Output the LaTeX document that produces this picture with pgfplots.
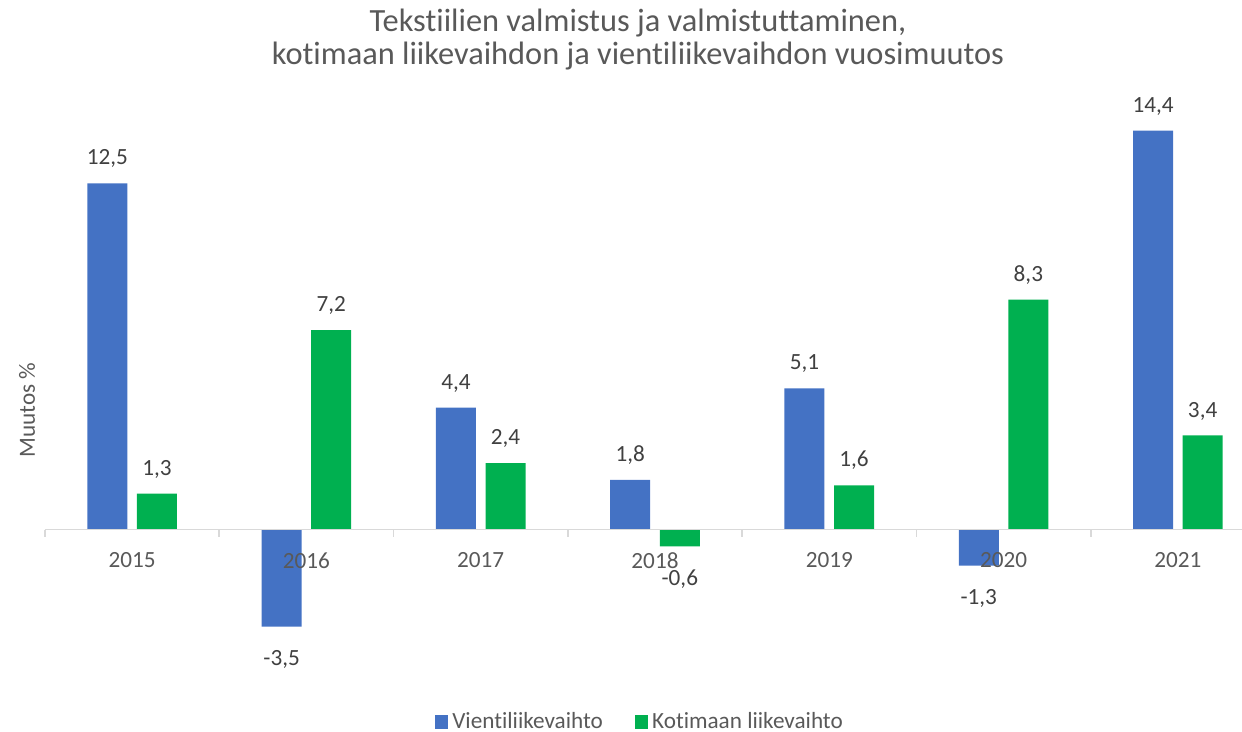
\documentclass[border=0pt]{standalone}
\usepackage{pgfplots}
\pgfplotsset{compat=1.18}
\usepackage{fontspec}
\setmainfont{Carlito}[RawFeature={-liga;-clig;-calt;-dlig}]
\definecolor{vienti}{HTML}{4472C4}
\definecolor{koti}{HTML}{00B050}
\definecolor{txtgray}{HTML}{595959}
\definecolor{lblgray}{HTML}{404040}
\definecolor{axgray}{HTML}{D9D9D9}
\begin{document}
\begin{tikzpicture}
\begin{axis}[
    at={(0,0)}, anchor=south west,
    scale only axis, width=610pt, height=297.8pt,
    ybar, bar width=20pt,
    xmin=-0.5, xmax=6.5, ymin=-5.5, ymax=16,
    axis on top,
    axis x line*=middle, axis y line=none,
    x axis line style={axgray, line width=0.8pt},
    xtick={0,...,6},
    xticklabels={2015,2016,2017,2018,2019,2020,2021},
    major tick length=0pt,
    extra x ticks={-0.5,0.5,...,6.5},
    extra x tick labels={},
    extra x tick style={major tick length=3.5pt, tick align=outside, tick style={axgray, line width=0.8pt}},
    xticklabel style={font=\fontsize{11.6}{14}\selectfont, text=txtgray, yshift=-8pt},
    ytick=\empty,
    /pgf/number format/.cd, use comma, fixed, fixed zerofill, precision=1, assume math mode=true,
    /pgfplots/.cd,
    nodes near coords,
    visualization depends on={y \as \rawy},
    every node near coord/.append style={font=\fontsize{11.6}{14}\selectfont, text=lblgray,
        text depth=0pt, inner ysep=9pt, yshift={ifthenelse(\rawy<0,-2.5,0)}},
    legend columns=2,
    legend style={at={(0.4885,-0.067)}, anchor=center, draw=none, fill=none,
        font=\fontsize{11.6}{14}\selectfont, text=txtgray,
        /tikz/every even column/.append style={column sep=14pt}},
    legend image code/.code={\fill[#1] (0pt,-3.3pt) rectangle (6.6pt,3.3pt);},
]
\addplot+[fill=vienti, draw=none, bar shift=-12.4pt] coordinates {
    (0,12.5) (1,-3.5) (2,4.4) (3,1.8) (4,5.1) (5,-1.3) (6,14.4)
};
\addplot+[fill=koti, draw=none, bar shift=12.4pt] coordinates {
    (0,1.3) (1,7.2) (2,2.4) (3,-0.6) (4,1.6) (5,8.3) (6,3.4)
};
\legend{Vientiliikevaihto, Kotimaan liikevaihto}
\end{axis}
\node[text=txtgray, font=\fontsize{16.2}{19}\selectfont, anchor=base] at (296.5pt,325pt) {Tekstiilien valmistus ja valmistuttaminen,};
\node[text=txtgray, font=\fontsize{16.2}{19}\selectfont, anchor=base] at (296.5pt,308.5pt) {kotimaan liikevaihdon ja vientiliikevaihdon vuosimuutos};
\node[text=txtgray, font=\fontsize{11.6}{14}\selectfont, rotate=90] at (-9pt,136pt) {Muutos \%};
\pgfresetboundingbox
\useasboundingbox (-22.5pt,-25pt) rectangle (598.5pt,341pt);
\end{tikzpicture}
\end{document}
